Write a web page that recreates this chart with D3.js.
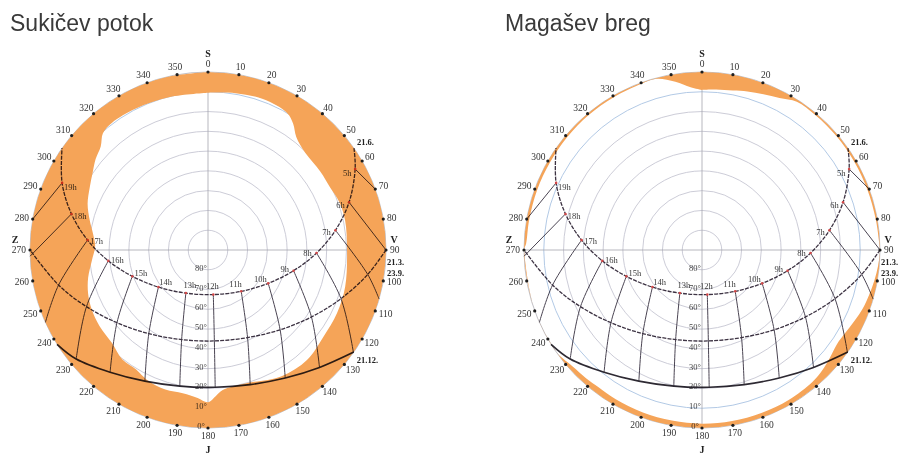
<!DOCTYPE html>
<html>
<head>
<meta charset="utf-8">
<script src="https://cdn.jsdelivr.net/npm/d3@7"></script>
<style>
  body { margin: 0; background: #fff; }
  svg { display: block; }
</style>
</head>
<body>
<svg id="chart" width="901" height="453"></svg>
<script>
// ---- data ----
const azimuthTicks = [0,10,20,30,40,50,60,70,80,90,100,110,120,130,140,150,160,170,
                      180,190,200,210,220,230,240,250,260,270,280,290,300,310,320,330,340,350];
const altitudeRings = [10,20,30,40,50,60,70,80];
const altitudeLabels = [80,70,60,50,40,30,20,10,0];
const cardinals = [["S",0],["V",90],["J",180],["Z",270]];

// sun position [azimuth, altitude] at each clock hour
const hourNames = ["5h","6h","7h","8h","9h","10h","11h","12h","13h","14h","15h","16h","17h","18h","19h"];
const summerHours = [[61.2,5.1],[71.3,14.7],[81.2,24.8],[91.6,35.1],[103.6,45.5],[119.0,55.2],[141.2,63.2],
                     [173.2,67.3],[207.2,65.5],[233.2,58.7],[250.8,49.5],[263.8,39.3],[274.7,28.9],[284.8,18.6],[294.7,8.8]];
const equinoxHours = [null,null,[98.7,8.3],[110.1,18.4],[122.9,27.7],[137.9,35.6],[155.7,41.4],
                      [176.0,43.9],[196.4,42.8],[215.3,38.2],[231.4,31.1],[245.0,22.2],[256.8,12.4],null,null];
const winterHours = [null,null,null,null,[136.5,8.1],[148.9,14.4],[162.6,18.7],
                     [177.0,20.5],[191.7,19.7],[205.7,16.4],[218.7,10.8],[230.4,3.5],null,null,null];
// where hour lines meet the horizon
const hourHorizon = [[70,0],[90,0],[106,0],[125.2,0],null,null,null,null,null,null,null,null,[246,0],[268,0],[280,0]];

const dateNames = ["21.6.","21.3.","23.9.","21.12."];
const summerPath = [[55.1,0]].concat(summerHours, [[304.9,0]]);
const equinoxPath = [[90,0]].concat(equinoxHours.filter(d => d), [[270,0]]);
const winterPath = [[125,0]].concat(winterHours.filter(d => d), [[238,0]]);

// obstruction horizon [azimuth, elevation]
const horizonSukicev = [[0,10.5],[10,9.5],[20,8.8],[30,10],[34,13],[38,17.5],[45,20.5],[55,20.7],[63,20.6],
  [70,19.3],[78,19.1],[90,19.7],[105,18.2],[116,17.4],[127,17],[138,15.2],[150,16.2],[164,19.9],[174,18.8],
  [177,16],[180,13],[184,15],[190,16.5],[197,16.2],[205,17.4],[211,19.5],[218,19.7],[226,22.4],[235,23],
  [243,24],[250,25.5],[257,27.8],[265,31.1],[272,32.9],[278,31.3],[284,28.4],[291,24.8],[298,22.3],
  [304,19.7],[309,16.9],[314,14.6],[318,10.6],[323,9.4],[333,9.7],[346,10.3],[360,10.5]];
const horizonMagasev = [[0,9.1],[5,8.6],[11,7.9],[16,6.6],[21.5,5.3],[27,3.7],[32.6,1.0],[40,0.9],[50,0.9],
  [60,1.0],[70,1.0],[80,0.8],[88,0.3],[90,0],[95,0.6],[100,1.5],[105,2.5],[110,3.5],[115,5],[120,6.3],
  [125,6.8],[130,5.5],[135,4],[140,3],[150,2.4],[160,2.3],[170,2.2],[180,2.2],[190,2.4],[200,2.6],
  [210,2.8],[217,3.1],[222,2.6],[228,2],[232,0.8],[235,0],[250,0],[270,0],[272,1],[280,1.3],[290,1.3],
  [300,1.3],[310,1.1],[320,0.9],[330,0.8],[340,0.6],[345,0.4],[351,3.9],[356,7.5],[360,9.1]];

const titles = ["Sukičev potok", "Magašev breg"];
const horizons = [horizonSukicev, horizonMagasev];

// ---- layout ----
const R = 178, CY = 250;
const centersX = [208, 702];
const titleX = [10, 505];

const svg = d3.select("#chart");
const serif = "'Liberation Serif', 'DejaVu Serif', serif";

const rScale = d3.scaleLinear().domain([90, 0]).range([0, R]);
const aScale = d3.scaleLinear().domain([0, 360]).range([0, 2 * Math.PI]);
const pt = d => d3.pointRadial(aScale(d[0]), rScale(d[1]));

const area = d3.areaRadial()
  .angle(d => aScale(d[0]))
  .innerRadius(d => rScale(d[1]))
  .outerRadius(R)
  .curve(d3.curveCatmullRom.alpha(0.5));

const line = d3.lineRadial()
  .angle(d => aScale(d[0]))
  .radius(d => rScale(d[1]))
  .curve(d3.curveCatmullRom.alpha(0.5));

titles.forEach((title, i) => {
  svg.append("text")
    .attr("x", titleX[i]).attr("y", 31)
    .attr("font-family", "'Liberation Sans', Arial, sans-serif")
    .attr("font-size", 23)
    .attr("fill", "#3a3a3a")
    .text(title);

  const g = svg.append("g").attr("transform", `translate(${centersX[i]},${CY})`);

  g.append("clipPath").attr("id", "clip" + i)
    .append("circle").attr("r", R);

  // altitude rings
  g.selectAll(".ring").data(altitudeRings).join("circle")
    .attr("r", d => rScale(d))
    .attr("fill", "none")
    .attr("stroke", d => d === 10 ? "#a9c3e2" : "#c6c6d3")
    .attr("stroke-width", 0.9);

  // cross
  g.append("line").attr("x1", -R).attr("x2", R).attr("y1", 0).attr("y2", 0)
    .attr("stroke", "#a5a5ad").attr("stroke-width", 0.8);
  g.append("line").attr("y1", -R).attr("y2", R).attr("x1", 0).attr("x2", 0)
    .attr("stroke", "#a5a5ad").attr("stroke-width", 0.8);

  // outer circle
  g.append("circle").attr("r", R).attr("fill", "none")
    .attr("stroke", "#b9b9c0").attr("stroke-width", 0.9);

  // terrain horizon
  g.append("path").datum(horizons[i])
    .attr("d", area)
    .attr("fill", "#f5a458")
    .attr("clip-path", `url(#clip${i})`);

  const ink = g.append("g").style("mix-blend-mode", "multiply");

  // altitude labels on the south axis
  ink.selectAll(".alt").data(altitudeLabels).join("text")
    .attr("x", -7).attr("y", d => rScale(d) - 2)
    .attr("text-anchor", "middle").attr("dominant-baseline", "central")
    .attr("font-family", serif).attr("font-size", 8.5).attr("fill", "#444")
    .text(d => d + "°");

  // hour lines
  hourNames.forEach((h, k) => {
    const pts = [summerHours[k], equinoxHours[k], winterHours[k], hourHorizon[k]].filter(d => d);
    ink.append("path").datum(pts)
      .attr("d", line)
      .attr("fill", "none").attr("stroke", "#4a4452").attr("stroke-width", 1);
  });

  // day paths
  ink.append("path").datum(summerPath).attr("d", line)
    .attr("fill", "none").attr("stroke", "#3d3343").attr("stroke-width", 1.3).attr("stroke-dasharray", "4,1.2");
  ink.append("path").datum(equinoxPath).attr("d", line)
    .attr("fill", "none").attr("stroke", "#3d3343").attr("stroke-width", 1.3).attr("stroke-dasharray", "4,1.2");
  ink.append("path").datum(winterPath).attr("d", line)
    .attr("fill", "none").attr("stroke", "#2e2a33").attr("stroke-width", 1.7);

  // hour marks and labels on the 21.6. path
  ink.selectAll(".hdot").data(summerHours).join("circle")
    .attr("cx", d => pt(d)[0]).attr("cy", d => pt(d)[1]).attr("r", 1.3)
    .attr("fill", "#d24848");
  ink.selectAll(".hlab").data(summerHours).join("text")
    .attr("x", d => { const p = pt(d), l = Math.hypot(p[0], p[1]); return p[0] * (1 - 9 / l); })
    .attr("y", d => { const p = pt(d), l = Math.hypot(p[0], p[1]); return p[1] * (1 - 9 / l); })
    .attr("text-anchor", "middle").attr("dominant-baseline", "central")
    .attr("font-family", serif).attr("font-size", 8.5).attr("fill", "#3a3a3a")
    .text((d, k) => hourNames[k]);

  // azimuth ticks
  g.selectAll(".tick").data(azimuthTicks).join("circle")
    .attr("cx", d => d3.pointRadial(aScale(d), R)[0])
    .attr("cy", d => d3.pointRadial(aScale(d), R)[1])
    .attr("r", 1.6).attr("fill", "#1e1e1e");
  g.selectAll(".tlab").data(azimuthTicks).join("text")
    .attr("x", d => {
      const w = String(d).length * 4.7;
      return d3.pointRadial(aScale(d), R + 4)[0] + Math.sin(aScale(d)) * w / 2;
    })
    .attr("y", d => d3.pointRadial(aScale(d), R + 4)[1] - Math.cos(aScale(d)) * 4)
    .attr("text-anchor", "middle").attr("dominant-baseline", "central")
    .attr("font-family", serif).attr("font-size", 9.5).attr("fill", "#333")
    .text(d => d);

  // cardinal letters
  const cardOff = { S: [0, -197], V: [186, -11], J: [0, 199], Z: [-193, -11] };
  g.selectAll(".card").data(cardinals).join("text")
    .attr("x", d => cardOff[d[0]][0]).attr("y", d => cardOff[d[0]][1])
    .attr("text-anchor", "middle").attr("dominant-baseline", "central")
    .attr("font-family", serif).attr("font-weight", "bold").attr("font-size", 10).attr("fill", "#222")
    .text(d => d[0]);

  // date labels at sunrise points
  const dateAnchors = [summerPath[0], equinoxPath[0], equinoxPath[0], winterPath[0]];
  const dateOff = [[3, -6], [1, 12], [1, 23], [3, 8]];
  g.selectAll(".date").data(dateNames).join("text")
    .attr("x", (d, k) => pt(dateAnchors[k])[0] + dateOff[k][0])
    .attr("y", (d, k) => pt(dateAnchors[k])[1] + dateOff[k][1])
    .attr("dominant-baseline", "central")
    .attr("font-family", serif).attr("font-weight", "bold").attr("font-size", 8.5).attr("fill", "#222")
    .text(d => d);
});
</script>
</body>
</html>
